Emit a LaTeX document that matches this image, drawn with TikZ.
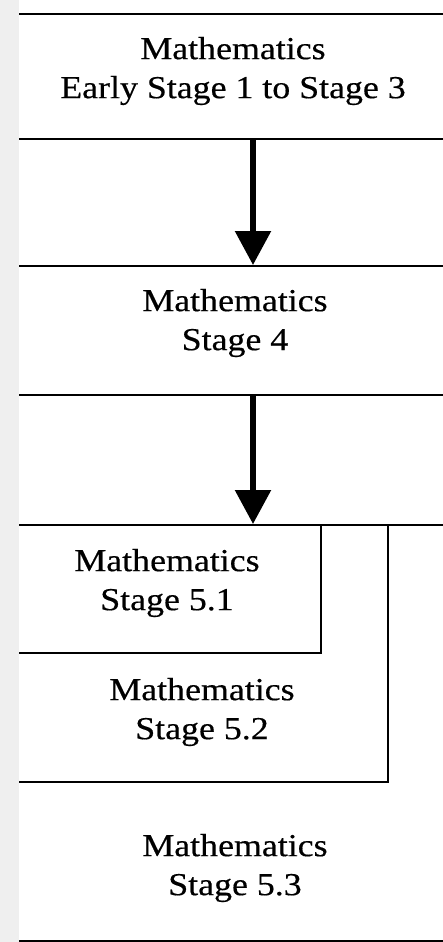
\documentclass[tikz,border=0pt]{standalone}
\usepackage{fontspec}
\setmainfont{Liberation Serif}[FakeStretch=1.12, FakeBold=0.4]
\usetikzlibrary{arrows.meta,positioning}
\definecolor{stripgray}{RGB}{239,239,239}

\begin{document}
\begin{tikzpicture}[x=0.5pt, y=-0.5pt,
    every node/.style={font=\fontsize{16}{19.5}\selectfont},
    stagebox/.style={draw, line width=1.2pt, fill=white, anchor=north west, inner sep=0pt, minimum width=215pt},
    stagetext/.style={align=center, inner sep=0pt},
    flowarrow/.style={-{Triangle[width=17.5pt,length=17pt]}, line width=2.8pt}]
    \useasboundingbox (0,0) rectangle (443,942);
    \fill[stripgray] (0,0) rectangle (19,942);
    \clip (19,0) rectangle (443,942);
    % stages
    \node[stagebox, minimum height=62.5pt] (early) at (17,13) {};
    \node[stagebox, minimum height=64.5pt] (s4) at (17,265) {};
    \node[stagebox, minimum height=208pt] (s53) at (17,524) {};
    \node[stagebox, minimum width=185pt, minimum height=128.5pt] (s52) at (17,524) {};
    \node[stagebox, minimum width=151.5pt, minimum height=64pt] (s51) at (17,524) {};
    % labels
    \node[stagetext] (earlytext) at (233,71) {Mathematics\\Early Stage 1 to Stage 3};
    \node[stagetext] (s4text) at (235,323) {Mathematics\\Stage 4};
    \node[stagetext] (s51text) at (167,583) {Mathematics\\Stage 5.1};
    \node[stagetext] (s52text) at (202,712) {Mathematics\\Stage 5.2};
    \node[stagetext] (s53text) at (235,868) {Mathematics\\Stage 5.3};
    % arrows
    \coordinate (arrowx) at (253,0);
    \draw[flowarrow] (early.south -| arrowx) -- (s4.north -| arrowx);
    \draw[flowarrow] (s4.south -| arrowx) -- (s53.north -| arrowx);
\end{tikzpicture}
\end{document}
